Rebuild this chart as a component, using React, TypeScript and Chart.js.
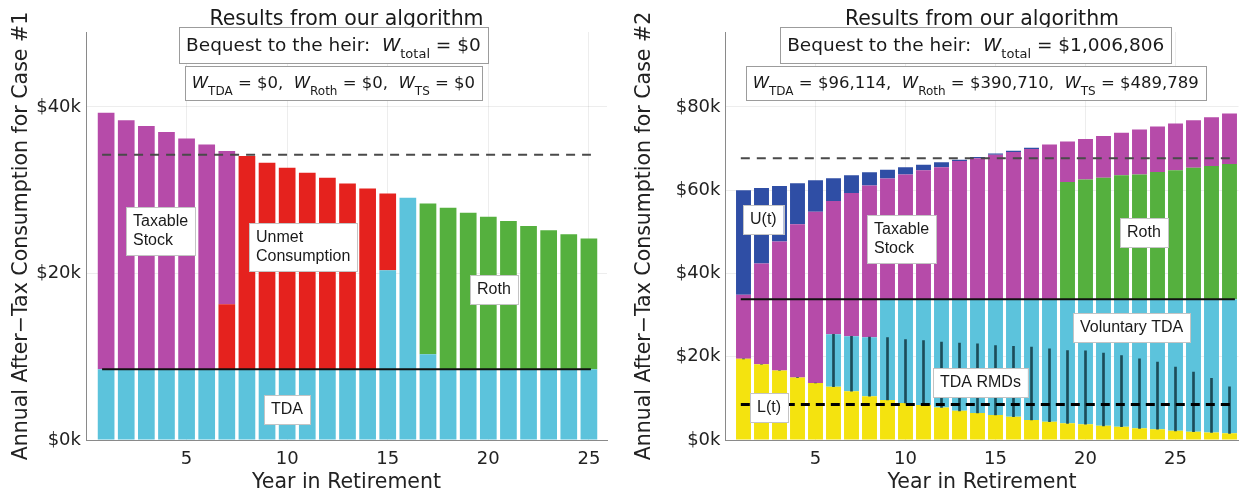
import React, { useEffect, useRef } from 'react';
import { Chart, registerables } from 'chart.js';

Chart.register(...registerables);

// ---------------- Case #1 (left panel) ----------------
const years1 = [1, 2, 3, 4, 5, 6, 7, 8, 9, 10, 11, 12, 13, 14, 15, 16, 17, 18, 19, 20, 21, 22, 23, 24, 25];
const tda1 = [8500, 8500, 8500, 8500, 8500, 8500, 8500, 8500, 8500, 8500, 8500, 8500, 8500, 8500, 20400, 29100, 10300, 8500, 8500, 8500, 8500, 8500, 8500, 8500, 8500];
const unmet1 = [0, 0, 0, 0, 0, 0, 7800, 25600, 24800, 24200, 23600, 23000, 22300, 21700, 9200, 0, 0, 0, 0, 0, 0, 0, 0, 0, 0];
const taxable1 = [30800, 29900, 29200, 28500, 27700, 27000, 18400, 0, 0, 0, 0, 0, 0, 0, 0, 0, 0, 0, 0, 0, 0, 0, 0, 0, 0];
const roth1 = [0, 0, 0, 0, 0, 0, 0, 0, 0, 0, 0, 0, 0, 0, 0, 0, 18100, 19400, 18800, 18300, 17800, 17200, 16700, 16200, 15700];
const floorLevel1 = 8500;
const targetLevel1 = 34250;
const lineSpan1 = [0.8, 25.1];
const yTicks1 = [0, 20000, 40000];

// ---------------- Case #2 (right panel) ----------------
const years2 = [1, 2, 3, 4, 5, 6, 7, 8, 9, 10, 11, 12, 13, 14, 15, 16, 17, 18, 19, 20, 21, 22, 23, 24, 25, 26, 27, 28];
const lowerL2 = [19500, 18200, 16700, 15000, 13700, 12800, 11700, 10500, 9600, 8900, 8400, 7800, 7000, 6500, 6000, 5600, 4800, 4400, 4000, 3800, 3400, 3200, 2800, 2600, 2200, 2000, 1800, 1600];
const tda2 = [0, 0, 0, 0, 0, 12600, 13200, 14200, 24200, 24900, 25400, 26000, 26800, 27300, 27800, 28200, 29000, 29400, 29800, 30000, 30400, 30600, 31000, 31200, 31600, 31800, 32000, 32200];
const roth2 = [0, 0, 0, 0, 0, 0, 0, 0, 0, 0, 0, 0, 0, 0, 0, 0, 0, 0, 28200, 28800, 29200, 29800, 30000, 30600, 31000, 31600, 32000, 32500];
const taxable2 = [15400, 24200, 31000, 36800, 41100, 32000, 34400, 36400, 29000, 30000, 31000, 31700, 33200, 33900, 34700, 35400, 36100, 37200, 9700, 9700, 10000, 10200, 10800, 10900, 11200, 11400, 11700, 12100];
const upperU2 = [25100, 18100, 13300, 9900, 7600, 5500, 4300, 3200, 2100, 1700, 1300, 1200, 300, 300, 300, 300, 300, 0, 0, 0, 0, 0, 0, 0, 0, 0, 0, 0];
const rmd2 = [0, 0, 0, 0, 0, 12600, 13200, 14200, 15000, 15200, 15500, 15700, 16300, 16600, 16700, 16900, 17500, 17500, 17500, 17600, 17500, 17100, 16700, 16100, 15300, 14300, 13000, 11200];
const floorLevel2 = 33800;
const targetLevel2 = 67700;
const lLevel2 = 8500;
const lineSpan2 = [0.85, 28.3];
const yTicks2 = [0, 20000, 40000, 60000, 80000];

const xTicks = [5, 10, 15, 20, 25];

const C = {
  magenta: '#b64ba9',
  red: '#e5221e',
  cyan: '#5cc3dc',
  green: '#55b03e',
  blue: '#2f4ea5',
  yellow: '#f4e30f',
  rmd: '#1c4d5a',
};

const FONT = 'DejaVu Sans';
const LFONT = 'Liberation Sans';

type Seg = { t: string; it?: boolean; sub?: boolean };
type Header = { cx: number; top: number; h: number; size: number; segs: Seg[] };
type Label = { x: number; y: number; lines: string[] };
type Spec = { title: string; headers: Header[]; labels: Label[] };

function segFont(s: Seg, size: number) {
  if (s.sub) return `${Math.round(size * 0.7)}px "${FONT}"`;
  if (s.it) return `italic ${size}px "${FONT}"`;
  return `${size}px "${FONT}"`;
}

function makeAnnot(spec: Spec) {
  return {
    id: 'annot',
    afterDraw(chart: any) {
      const { ctx, chartArea, scales } = chart;
      const xs = scales.x;
      const ys = scales.y;
      ctx.save();
      // title
      ctx.fillStyle = '#1a1a1a';
      ctx.font = `20.5px "${FONT}"`;
      ctx.textAlign = 'center';
      ctx.textBaseline = 'alphabetic';
      ctx.fillText(spec.title, (chartArea.left + chartArea.right) / 2, 25);
      // header boxes
      for (const hb of spec.headers) {
        let w = 0;
        for (const s of hb.segs) {
          ctx.font = segFont(s, hb.size);
          w += ctx.measureText(s.t).width;
        }
        const bw = w + 14;
        const cx = xs.getPixelForValue(hb.cx);
        const bx = cx - bw / 2;
        ctx.fillStyle = '#ffffff';
        ctx.fillRect(bx, hb.top, bw, hb.h);
        ctx.strokeStyle = '#9c9c9c';
        ctx.lineWidth = 1;
        ctx.strokeRect(Math.round(bx) + 0.5, hb.top + 0.5, Math.round(bw), hb.h);
        let px = bx + 7;
        const base = hb.top + hb.h / 2 + hb.size * 0.33;
        ctx.textAlign = 'left';
        ctx.fillStyle = '#1a1a1a';
        for (const s of hb.segs) {
          ctx.font = segFont(s, hb.size);
          ctx.fillText(s.t, px, s.sub ? base + hb.size * 0.38 : base);
          px += ctx.measureText(s.t).width;
        }
      }
      // in-plot labels
      const lsize = 16;
      const lh = 19;
      for (const lb of spec.labels) {
        ctx.font = `${lsize}px "${LFONT}"`;
        let w = 0;
        for (const l of lb.lines) w = Math.max(w, ctx.measureText(l).width);
        const bw = w + 14;
        const bh = lb.lines.length * lh + 10;
        const bx = Math.round(xs.getPixelForValue(lb.x));
        const by = Math.round(ys.getPixelForValue(lb.y));
        ctx.fillStyle = '#ffffff';
        ctx.fillRect(bx, by, bw, bh);
        ctx.strokeStyle = '#c4c4c4';
        ctx.lineWidth = 1;
        ctx.strokeRect(bx + 0.5, by + 0.5, Math.round(bw), bh);
        ctx.fillStyle = '#1a1a1a';
        ctx.textAlign = 'left';
        ctx.textBaseline = 'alphabetic';
        lb.lines.forEach((l, i) => ctx.fillText(l, bx + 7, by + 5 + (i + 1) * lh - 5));
      }
      ctx.restore();
    },
  };
}

type Panel = {
  years: number[];
  stacks: { label: string; values: number[]; color: string }[];
  rmd?: { base: number[]; values: number[] };
  lines: { level: number; span: number[]; color: string; width: number; dash: number[] }[];
  xMax: number;
  yMax: number;
  yTicks: number[];
  yTitle: string;
  yAxisWidth: number;
  padRight: number;
  spec: Spec;
};

function buildConfig(p: Panel): any {
  const datasets: any[] = [];
  p.lines.forEach((ln, i) => {
    datasets.push({
      type: 'line',
      label: 'line' + i,
      data: ln.span.map((x) => ({ x, y: ln.level })),
      borderColor: ln.color,
      borderWidth: ln.width,
      borderDash: ln.dash,
      pointRadius: 0,
      fill: false,
      stack: 'line' + i,
      order: 0,
    });
  });
  if (p.rmd) {
    datasets.push({
      type: 'bar',
      label: 'rmdBase',
      data: p.years.map((x, i) => ({ x, y: p.rmd!.base[i] })),
      backgroundColor: 'rgba(0,0,0,0)',
      borderWidth: 0,
      stack: 'rmd',
      grouped: false,
      barThickness: 2,
      order: 1,
    });
    datasets.push({
      type: 'bar',
      label: 'TDA RMDs',
      data: p.years.map((x, i) => ({ x, y: p.rmd!.values[i] })),
      backgroundColor: C.rmd,
      borderWidth: 0,
      stack: 'rmd',
      grouped: false,
      barThickness: 2,
      order: 1,
    });
  }
  p.stacks.forEach((s) => {
    datasets.push({
      type: 'bar',
      label: s.label,
      data: p.years.map((x, i) => ({ x, y: s.values[i] })),
      backgroundColor: s.color,
      borderWidth: 0,
      stack: 'main',
      grouped: false,
      barPercentage: 0.83,
      categoryPercentage: 1,
      order: 2,
    });
  });

  return {
    type: 'bar',
    data: { datasets },
    options: {
      animation: false,
      responsive: false,
      maintainAspectRatio: false,
      devicePixelRatio: 1,
      layout: { padding: { top: 32, right: p.padRight, bottom: 0, left: 0 } },
      plugins: { legend: { display: false }, tooltip: { enabled: false } },
      events: [],
      scales: {
        x: {
          type: 'linear',
          min: 0,
          max: p.xMax,
          offset: false,
          grid: { color: 'rgba(0,0,0,0.07)', drawTicks: false, offset: false },
          border: { color: '#8a8a8a', width: 1 },
          ticks: {
            font: { family: FONT, size: 18 },
            color: '#222',
            padding: 9,
            maxRotation: 0,
            autoSkip: false,
            callback: (v: any) => String(v),
          },
          afterBuildTicks: (s: any) => {
            s.ticks = xTicks.map((v) => ({ value: v }));
          },
          afterFit: (s: any) => {
            s.height = 55;
          },
          title: {
            display: true,
            text: 'Year in Retirement',
            font: { family: FONT, size: 20.5 },
            color: '#222',
            padding: { top: 0, bottom: 0 },
          },
        },
        y: {
          type: 'linear',
          stacked: true,
          min: 0,
          max: p.yMax,
          grid: { color: 'rgba(0,0,0,0.07)', drawTicks: false },
          border: { color: '#8a8a8a', width: 1 },
          ticks: {
            font: { family: FONT, size: 18 },
            color: '#222',
            padding: 5,
            callback: (v: any) => '$' + Math.round(Number(v) / 1000) + 'k',
          },
          afterBuildTicks: (s: any) => {
            s.ticks = p.yTicks.map((v) => ({ value: v }));
          },
          afterFit: (s: any) => {
            s.width = p.yAxisWidth;
          },
          title: {
            display: true,
            text: p.yTitle,
            font: { family: FONT, size: 20.5 },
            color: '#222',
            padding: { top: 9, bottom: 0 },
          },
        },
      },
    },
    plugins: [makeAnnot(p.spec)],
  };
}

const leftPanel: Panel = {
  years: years1,
  stacks: [
    { label: 'TDA', values: tda1, color: C.cyan },
    { label: 'Unmet Consumption', values: unmet1, color: C.red },
    { label: 'Taxable Stock', values: taxable1, color: C.magenta },
    { label: 'Roth', values: roth1, color: C.green },
  ],
  lines: [
    { level: floorLevel1, span: lineSpan1, color: '#111', width: 2, dash: [] },
    { level: targetLevel1, span: lineSpan1, color: '#4a4a4a', width: 2, dash: [9, 7] },
  ],
  xMax: 25.9,
  yMax: 49000,
  yTicks: yTicks1,
  yTitle: 'Annual After\u2212Tax Consumption for Case #1',
  yAxisWidth: 86,
  padRight: 16,
  spec: {
    title: 'Results from our algorithm',
    headers: [
      {
        cx: 12.3, top: 27, h: 36, size: 18.5,
        segs: [{ t: 'Bequest to the heir:  ' }, { t: 'W', it: true }, { t: 'total', sub: true }, { t: ' = $0' }],
      },
      {
        cx: 12.3, top: 66, h: 34, size: 16.5,
        segs: [
          { t: 'W', it: true }, { t: 'TDA', sub: true }, { t: ' = $0,  ' },
          { t: 'W', it: true }, { t: 'Roth', sub: true }, { t: ' = $0,  ' },
          { t: 'W', it: true }, { t: 'TS', sub: true }, { t: ' = $0' },
        ],
      },
    ],
    labels: [
      { x: 1.99, y: 28000, lines: ['Taxable', 'Stock'] },
      { x: 8.1, y: 26100, lines: ['Unmet', 'Consumption'] },
      { x: 19.1, y: 19800, lines: ['Roth'] },
      { x: 8.85, y: 5400, lines: ['TDA'] },
    ],
  },
};

const rightPanel: Panel = {
  years: years2,
  stacks: [
    { label: 'L(t)', values: lowerL2, color: C.yellow },
    { label: 'TDA', values: tda2, color: C.cyan },
    { label: 'Roth', values: roth2, color: C.green },
    { label: 'Taxable Stock', values: taxable2, color: C.magenta },
    { label: 'U(t)', values: upperU2, color: C.blue },
  ],
  rmd: { base: lowerL2, values: rmd2 },
  lines: [
    { level: floorLevel2, span: lineSpan2, color: '#111', width: 2, dash: [] },
    { level: targetLevel2, span: lineSpan2, color: '#4a4a4a', width: 2, dash: [9, 7] },
    { level: lLevel2, span: lineSpan2, color: '#000', width: 3, dash: [9, 6] },
  ],
  xMax: 28.5,
  yMax: 98000,
  yTicks: yTicks2,
  yTitle: 'Annual After\u2212Tax Consumption for Case #2',
  yAxisWidth: 102.5,
  padRight: 7.5,
  spec: {
    title: 'Results from our algorithm',
    headers: [
      {
        cx: 13.9, top: 27, h: 36, size: 18.5,
        segs: [{ t: 'Bequest to the heir:  ' }, { t: 'W', it: true }, { t: 'total', sub: true }, { t: ' = $1,006,806' }],
      },
      {
        cx: 13.9, top: 66, h: 34, size: 16.5,
        segs: [
          { t: 'W', it: true }, { t: 'TDA', sub: true }, { t: ' = $96,114,  ' },
          { t: 'W', it: true }, { t: 'Roth', sub: true }, { t: ' = $390,710,  ' },
          { t: 'W', it: true }, { t: 'TS', sub: true }, { t: ' = $489,789' },
        ],
      },
    ],
    labels: [
      { x: 0.97, y: 56400, lines: ['U(t)'] },
      { x: 7.86, y: 54000, lines: ['Taxable', 'Stock'] },
      { x: 21.9, y: 53300, lines: ['Roth'] },
      { x: 19.3, y: 30500, lines: ['Voluntary TDA'] },
      { x: 11.5, y: 17300, lines: ['TDA RMDs'] },
      { x: 1.36, y: 11300, lines: ['L(t)'] },
    ],
  },
};

export default function App() {
  const ref1 = useRef<HTMLCanvasElement>(null);
  const ref2 = useRef<HTMLCanvasElement>(null);
  useEffect(() => {
    const c1 = new Chart(ref1.current as HTMLCanvasElement, buildConfig(leftPanel));
    const c2 = new Chart(ref2.current as HTMLCanvasElement, buildConfig(rightPanel));
    return () => {
      c1.destroy();
      c2.destroy();
    };
  }, []);
  return (
    <div style={{ position: 'absolute', left: 0, top: 0, width: 1246, height: 495, background: '#fff', overflow: 'hidden' }}>
      <canvas ref={ref1} width={623} height={495} style={{ position: 'absolute', left: 0, top: 0, width: 623, height: 495 }} />
      <canvas ref={ref2} width={623} height={495} style={{ position: 'absolute', left: 623, top: 0, width: 623, height: 495 }} />
    </div>
  );
}
